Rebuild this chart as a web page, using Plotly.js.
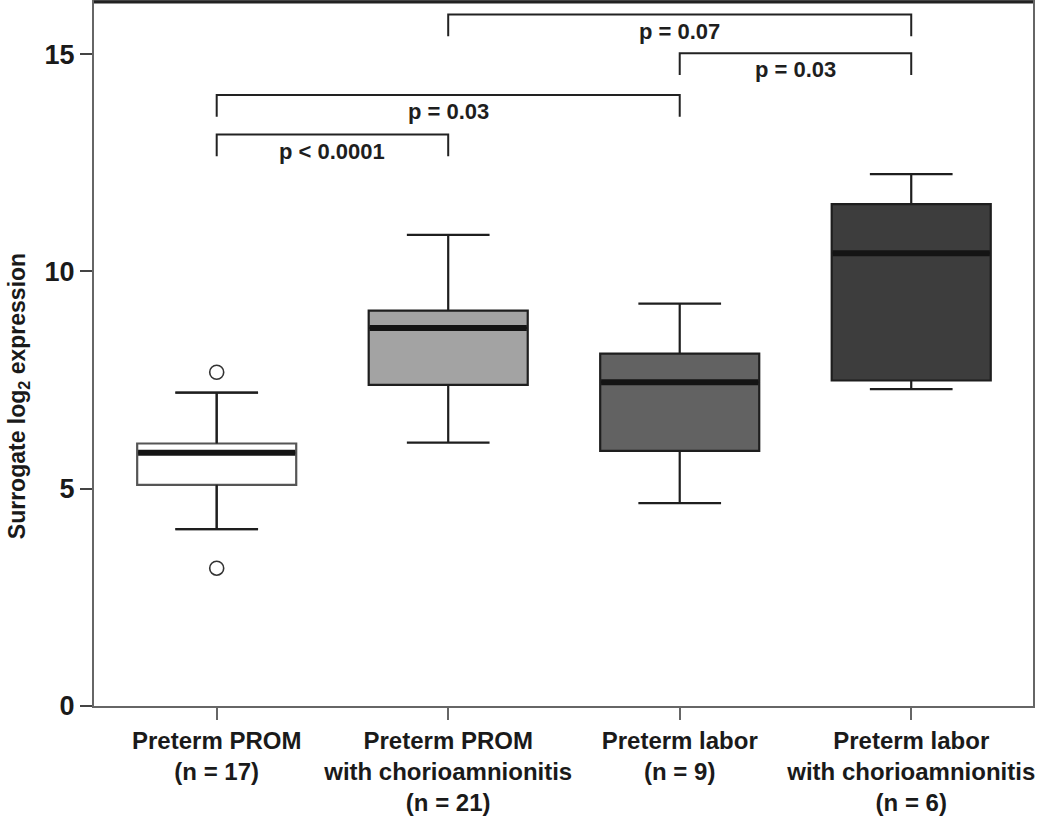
<!DOCTYPE html>
<html>
<head>
<meta charset="utf-8">
<script src="https://cdn.plot.ly/plotly-3.0.1.min.js"></script>
<style>html,body{margin:0;padding:0;background:#fff;}#chart{width:1050px;height:817px;}</style>
</head>
<body>
<div id="chart"></div>
<script>
// ---- data ----
const categories = [
  "Preterm PROM<br>(n = 17)",
  "Preterm PROM<br>with chorioamnionitis<br>(n = 21)",
  "Preterm labor<br>(n = 9)",
  "Preterm labor<br>with chorioamnionitis<br>(n = 6)"
];
const lowerWhisker = [4.07, 6.06, 4.67, 7.29];
const q1Values     = [5.09, 7.39, 5.87, 7.49];
const medianValues = [5.83, 8.70, 7.45, 10.42];
const q3Values     = [6.04, 9.10, 8.11, 11.55];
const upperWhisker = [7.21, 10.84, 9.26, 12.24];
const outlierGroup = [0, 0];
const outlierValues = [7.68, 3.17];
const comparisonFrom = [0, 0, 1, 2];
const comparisonTo   = [1, 2, 3, 3];
const comparisonP    = ["p < 0.0001", "p = 0.03", "p = 0.07", "p = 0.03"];
const yTickVals = [0, 5, 10, 15];
const yTitle = "Surrogate log<sub>2</sub> expression";

// ---- styling ----
const fills = ["#ffffff", "#a3a3a3", "#626262", "#3d3d3d"];
const boxWidth = 0.687;
const bracketTop = [13.15, 14.06, 15.91, 15.02];
const bracketDrop = 0.5;
const FONT = "Liberation Sans, Arial, sans-serif";

const traces = categories.map((c, i) => ({
  type: "box",
  x: [c],
  lowerfence: [lowerWhisker[i]],
  q1: [q1Values[i]],
  median: [medianValues[i]],
  q3: [q3Values[i]],
  upperfence: [upperWhisker[i]],
  fillcolor: fills[i],
  line: { color: i === 0 ? "#555" : "#1e1e1e", width: 2.2 },
  width: boxWidth,
  whiskerwidth: 0.52,
  boxpoints: false,
  hoverinfo: "skip",
  showlegend: false
}));

traces.push({
  type: "scatter",
  mode: "markers",
  x: outlierGroup.map(g => categories[g]),
  y: outlierValues,
  marker: { symbol: "circle-open", size: 14, color: "#333", line: { width: 1.6, color: "#333" } },
  showlegend: false,
  hoverinfo: "skip"
});

const shapes = [];
// median bars
medianValues.forEach((m, i) => {
  shapes.push({ type: "line", xref: "x", yref: "y",
    x0: i - boxWidth / 2 + 0.004, x1: i + boxWidth / 2 - 0.004, y0: m, y1: m,
    line: { color: "#141414", width: 6 }, layer: "above" });
});
// first box whiskers in black (box outline grey)
shapes.push({ type: "line", xref: "x", yref: "y", x0: 0, x1: 0, y0: lowerWhisker[0], y1: q1Values[0], line: { color: "#1e1e1e", width: 2.2 } });
shapes.push({ type: "line", xref: "x", yref: "y", x0: 0, x1: 0, y0: q3Values[0], y1: upperWhisker[0], line: { color: "#1e1e1e", width: 2.2 } });
const capHalf = boxWidth * 0.52 / 2;
[lowerWhisker[0], upperWhisker[0]].forEach(v => {
  shapes.push({ type: "line", xref: "x", yref: "y", x0: -capHalf, x1: capHalf, y0: v, y1: v, line: { color: "#1e1e1e", width: 2.2 } });
});

const annotations = [];
comparisonFrom.forEach((a, k) => {
  const b = comparisonTo[k];
  const top = bracketTop[k];
  shapes.push({ type: "path", xref: "x", yref: "y",
    path: `M ${a} ${top - bracketDrop} L ${a} ${top} L ${b} ${top} L ${b} ${top - bracketDrop}`,
    line: { color: "#222", width: 2 } });
  annotations.push({ xref: "x", yref: "y", x: (a + b) / 2, y: top, yanchor: "top", yshift: -2,
    text: "<b>" + comparisonP[k] + "</b>", showarrow: false,
    font: { family: FONT, size: 22, color: "#1e1e1e" } });
});
// y-axis title as rotated text
annotations.push({ xref: "paper", yref: "paper", x: -0.081, y: 0.44, xanchor: "center", yanchor: "middle",
  textangle: -90, text: "<b>" + yTitle + "</b>", showarrow: false,
  font: { family: FONT, size: 23, color: "#1a1a1a" } });
// top frame line (darker)
shapes.push({ type: "line", xref: "paper", yref: "paper", x0: 0, x1: 1, y0: 1, y1: 1, line: { color: "#222", width: 3 } });

const layout = {
  width: 1050, height: 817,
  margin: { l: 94, r: 17, t: 2, b: 111 },
  paper_bgcolor: "#fff", plot_bgcolor: "#fff",
  showlegend: false,
  xaxis: {
    type: "category",
    categoryorder: "array", categoryarray: categories,
    range: [-0.53, 3.526],
    showline: true, linecolor: "#666", linewidth: 2, mirror: true,
    ticks: "outside", ticklen: 12, tickwidth: 2, tickcolor: "#666",
    showgrid: false, zeroline: false,
    tickfont: { family: FONT, size: 24, color: "#1a1a1a", weight: "bold" },
    automargin: false
  },
  yaxis: {
    range: [0, 16.2],
    tickvals: yTickVals,
    ticktext: yTickVals.map(v => "<b>" + v + "</b>"),
    showline: true, linecolor: "#666", linewidth: 2, mirror: true,
    ticks: "outside", ticklen: 12, tickwidth: 2, tickcolor: "#444",
    showgrid: false, zeroline: false,
    tickfont: { family: FONT, size: 27, color: "#1a1a1a" },
    automargin: false
  },
  shapes: shapes,
  annotations: annotations
};

Plotly.newPlot("chart", traces, layout, { displayModeBar: false, staticPlot: true });
</script>
</body>
</html>
